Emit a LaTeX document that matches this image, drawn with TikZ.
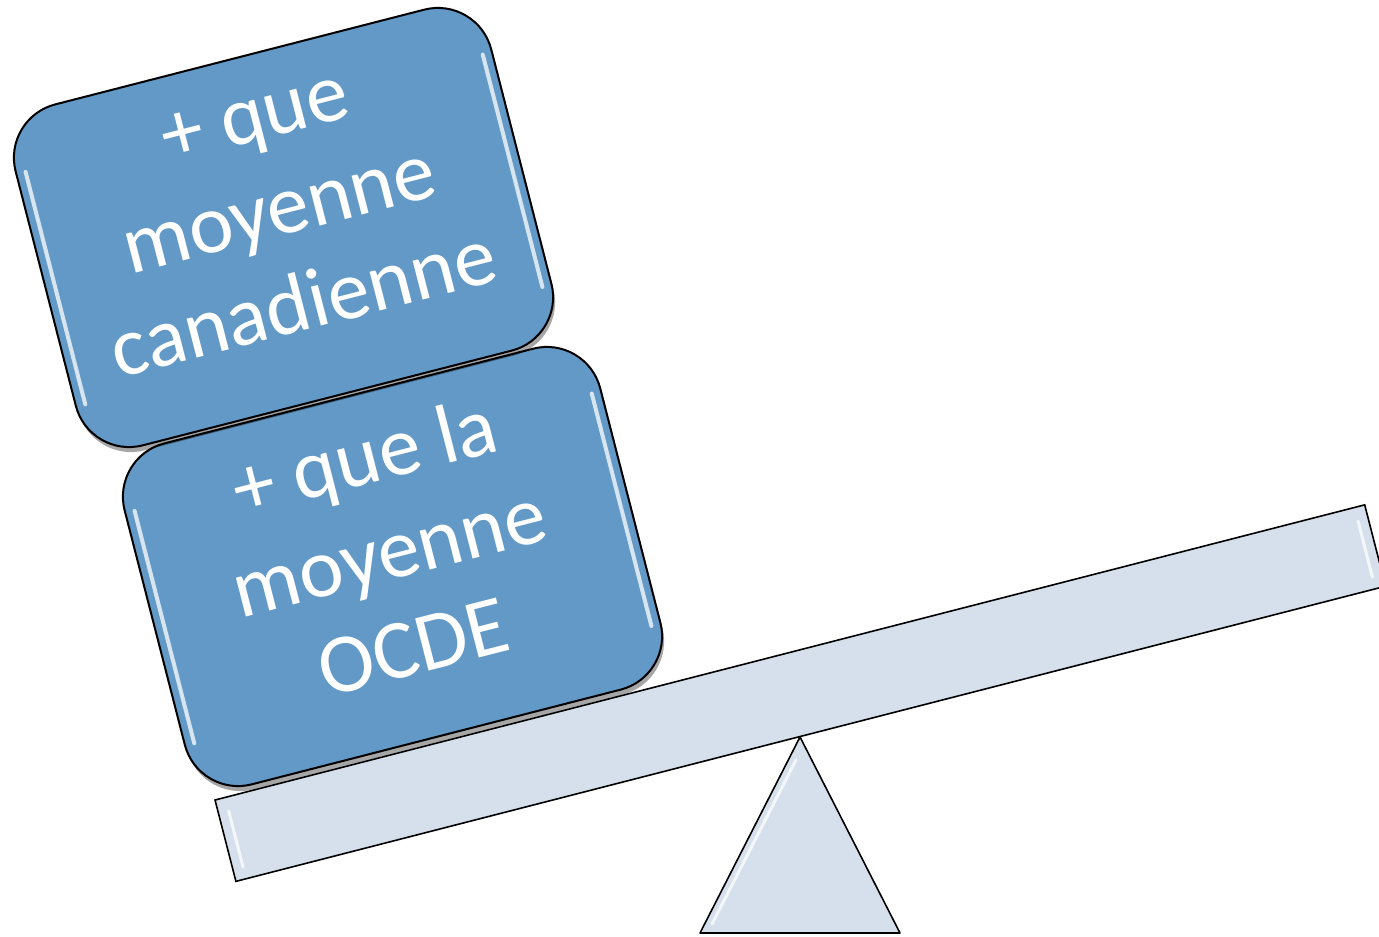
\documentclass[tikz,border=0pt]{standalone}
\usepackage{fontspec}
\setmainfont{Carlito}
\usetikzlibrary{shadows,calc}
\definecolor{boxblue}{RGB}{99,153,199}
\definecolor{plankfill}{RGB}{214,224,236}
\begin{document}
\begin{tikzpicture}[x=0.5pt,y=-0.5pt,
  blockbox/.style={draw=black, line width=1pt, fill=boxblue, rounded corners=27.5pt,
    minimum width=245.5pt, minimum height=176pt, inner sep=0pt, rotate=14.4,
    drop shadow={shadow xshift=1pt, shadow yshift=-2.5pt, opacity=0.35, fill=black}},
  boxtext/.style={text=white, align=center, font=\fontsize{42}{49}\selectfont,
    inner sep=0pt, rotate=14.4},
  plankbox/.style={draw=black, line width=0.8pt, fill=plankfill, minimum width=593.5pt,
    minimum height=42pt, inner sep=0pt, rotate=14.4},
  shine/.style={white, line width=2pt, opacity=0.75, line cap=round}]
\useasboundingbox (0,0) rectangle (1379,936);
\clip (0,0) rectangle (1379,936);
% fulcrum
\draw[black, line width=0.8pt, fill=plankfill, line join=round] (800,737) -- (900,933) -- (700,933) -- cycle;
\draw[shine, line width=1.5pt] (796,760) -- (712,924);
% plank
\node[plankbox] (plank) at (800.3,693.1) {};
\begin{scope}[shift={(800.3,693.1)},rotate=14.4]
  \draw[shine, line width=1.5pt] (-583,-28) -- (-583,30);
  \draw[shine, line width=1.5pt] (583,-28) -- (583,30);
\end{scope}
% boxes
\node[blockbox] (b2) at (392.5,566.5) {};
\begin{scope}[shift={(392.5,566.5)},rotate=14.4]
  \draw[shine] (-236,-118) -- (-236,122);
  \draw[shine] (236,-118) -- (236,122);
\end{scope}
\node[boxtext] (t2) at ($(b2.center)+(-4,-16)$) {+ que la\\moyenne\\OCDE};
\node[blockbox] (b1) at (283.5,227.5) {};
\begin{scope}[shift={(283.5,227.5)},rotate=14.4]
  \draw[shine] (-236,-118) -- (-236,122);
  \draw[shine] (236,-118) -- (236,122);
\end{scope}
\node[boxtext] (t1) at ($(b1.center)+(-4,-15)$) {+ que\\moyenne\\canadienne};
\end{tikzpicture}
\end{document}
